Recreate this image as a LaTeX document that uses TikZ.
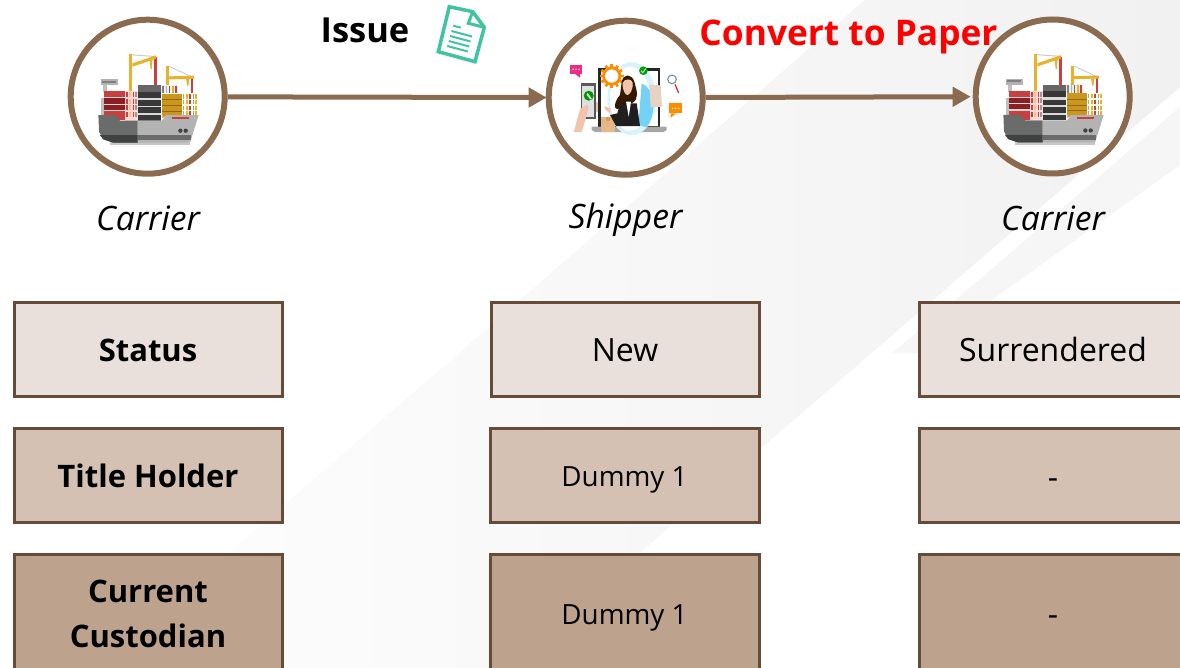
\documentclass[tikz,border=0pt]{standalone}
\usepackage{fontspec}
\setmainfont{Open Sans}
\usetikzlibrary{arrows.meta}
\definecolor{ringc}{HTML}{8B6B50}
\definecolor{edgec}{HTML}{654B38}
\definecolor{fillA}{HTML}{E9E0DB}
\definecolor{fillB}{HTML}{D4C1B3}
\definecolor{fillC}{HTML}{BDA38D}
\definecolor{teal}{HTML}{3FC3A0}
\definecolor{skin}{HTML}{F2C4AC}
\definecolor{cyel}{HTML}{E9B22C}
\definecolor{cred}{HTML}{C8403F}
\definecolor{dred}{HTML}{8B1F23}
\definecolor{ogold}{HTML}{CB961C}
\definecolor{hulld}{HTML}{6A6B6B}
\definecolor{hullx}{HTML}{404242}
\definecolor{hulll}{HTML}{B3B3B3}
\tikzset{
  ring/.style={circle,draw=ringc,fill=white,line width=6pt,minimum size=154pt,inner sep=0pt},
  flow/.style={draw=ringc,line width=5pt,-{Triangle[length=18pt,width=19pt,fill=ringc]}},
  rowbox/.style={rectangle,draw=edgec,line width=3pt,minimum width=268pt,minimum height=94pt,inner sep=0pt,align=center,text=black},
  rowA/.style={rowbox,fill=fillA},
  rowB/.style={rowbox,fill=fillB},
  rowC/.style={rowbox,fill=fillC,minimum height=120pt},
  head/.style={font=\fontsize{31}{45}\selectfont\bfseries},
  plain/.style={font=\fontsize{32}{45}\selectfont,text height=25.4pt,text depth=0pt},
  small/.style={font=\fontsize{27.8}{36}\selectfont,text depth=0pt},
  who/.style={font=\fontsize{33.6}{38}\selectfont\itshape,text=black},
  title/.style={font=\fontsize{34.5}{40}\selectfont\bfseries},
}
\newcommand{\shipart}[2]{%
\begin{scope}[shift={(#1,#2)},x=0.3333pt,y=-0.3333pt,shift={(-293,-290)}]
  % cranes
  \fill[black!20] (246,163) -- (316,168) -- (316,171) -- (246,166) -- cycle;
  \fill[black!20] (356,197) -- (428,230) -- (428,233) -- (356,200) -- cycle;
  \fill[cred] (311,170) rectangle (320,258);
  \fill[cred] (422,232) rectangle (430,282);
  \fill[cyel] (238,163) rectangle (247,278);
  \fill[cyel] (247,190) -- (318,166) -- (318,176) -- (247,200) -- cycle;
  \fill[cyel] (298,175) -- (308,175) -- (305,208) -- (302,208) -- cycle;
  \fill[cyel] (348,197) rectangle (357,258);
  \fill[cyel] (357,229) -- (432,227) -- (432,236) -- (357,238) -- cycle;
  \fill[cyel] (408,236) -- (418,236) -- (415,258) -- (412,258) -- cycle;
  % bridge
  \fill[black!30] (152,237) rectangle (203,255);
  \fill[black!50] (156,242) rectangle (199,248);
  \fill[black!25] (160,255) rectangle (172,277);
  \fill[black!25] (152,295) rectangle (162,345);
  % red stack
  \fill[cred] (161,274) rectangle (225,360);
  \fill[black!15] (161,291) rectangle (225,294);
  \fill[dred] (161,294) rectangle (225,311);
  \fill[black!15] (161,311) rectangle (225,314);
  \fill[dred] (161,314) rectangle (225,329);
  \fill[black!15] (161,329) rectangle (225,333);
  % strip
  \fill[white!85!red] (225,274) rectangle (263,362);
  \foreach \xa/\ca in {228/cred,238/orange!50!white,248/cred,256/black!40}
    \foreach \ya in {276,296,316,336}
      \fill[\ca] (\xa,\ya) rectangle ++(5,15);
  % dark stack
  \fill[black!60] (263,255) rectangle (333,362);
  \fill[black!15] (263,293) rectangle (333,300);
  \fill[black!15] (263,317) rectangle (333,322);
  \fill[black!15] (263,340) rectangle (333,345);
  \fill[black!78] (263,275) rectangle (333,293);
  \fill[black!78] (263,300) rectangle (333,317);
  \fill[black!78] (263,322) rectangle (333,340);
  \fill[black!78] (263,345) rectangle (333,361);
  % top small stack
  \fill[white!85!gray] (333,255) rectangle (383,280);
  \foreach \xa/\ca in {337/black!50,347/black!30,356/black!60,366/cyel,376/cred}
    \fill[\ca] (\xa,257) rectangle ++(5,22);
  % right strip
  \fill[white!90!yellow] (395,280) rectangle (440,347);
  \foreach \xa/\ca in {398/black!35,408/cyel,418/cred,428/black!40,435/cyel}
    \foreach \ya in {283,300,318,334}
      \fill[\ca] (\xa,\ya) rectangle ++(5,13);
  % yellow stack
  \fill[ogold] (337,281) rectangle (395,345);
  \fill[ogold!70!black] (337,297) rectangle (395,300);
  \fill[ogold!70!black] (337,316) rectangle (395,319);
  \fill[ogold!70!black] (337,332) rectangle (395,335);
  \fill[ogold] (337,345) -- (350,345) -- (337,355) -- cycle;
  % hull
  \fill[black!22] (180,425) rectangle (420,435);
  \fill[hulll] (263,362) -- (335,362) -- (350,345) -- (446,345) -- (420,428) -- (263,428) -- cycle;
  \fill[hulld] (145,345) -- (195,345) -- (210,362) -- (263,362) -- (263,428) -- (190,428) -- (160,418) -- (147,395) -- cycle;
  \fill[hullx] (149,405) -- (263,405) -- (263,428) -- (190,428) -- (160,418) -- cycle;
  \fill[black!58] (263,405) rectangle (424,420);
  \fill[cred] (365,351) rectangle (418,357);
  \fill[hullx] (391,392) circle (6.5);
  \fill[hullx] (407,392) circle (6.5);
\end{scope}}
\begin{document}
\begin{tikzpicture}[x=1pt,y=-1pt]
\useasboundingbox (0,0) rectangle (1180,668);
% background
\fill[white] (0,0) rectangle (1180,668);
\shade[left color=black!0.5,right color=black!5.5] (865,0) -- (1180,0) -- (1180,87) -- (643,550) -- (530,668) -- (97,668) -- cycle;
\fill[black!3.5] (1180,107) -- (985,275) -- (892,353) -- (918,353) -- (1180,165) -- cycle;

% actors
\node[ring] (c1) at (147.7,96.7) {};
\node[ring] (s) at (625.7,97.7) {};
\node[ring] (c2) at (1052.7,96.5) {};
\draw[flow,shorten >=-1pt] (c1) -- (s);
\draw[flow,shorten >=2pt] (s) -- (c2);
\shipart{147.7}{96.7}
\shipart{1052.7}{96.5}

% shipper illustration
\begin{scope}[shift={(625.7,97.7)},x=0.3333pt,y=-0.3333pt,shift={(-287,-293)}]
  \fill[black!85] (205,204) rectangle (391,382);
  \fill[white] (212,212) rectangle (384,378);
  \fill[black!35] (185,380) -- (410,380) -- (410,390) -- (400,396) -- (195,396) -- (185,390) -- cycle;
  \fill[cyan!15] (305,296) ellipse (73 and 110);
  \fill[white] (300,296) ellipse (60 and 96);
  \fill[cyan!55] (335,250) .. controls (370,262) and (385,330) .. (350,382) -- (325,375) -- cycle;
  % gear
  \foreach \a in {0,30,...,330}
    \fill[orange!90!yellow,rotate around={\a:(245,228)}] (241,192) rectangle (249,210);
  \fill[orange!90!yellow] (245,228) circle (29);
  \fill[white] (245,228) circle (20);
  % check
  \fill[green!65!black] (340,212) circle (13);
  \draw[white,line width=.7pt] (333,212) -- (338,218) -- (347,206);
  % pink bubble
  \fill[magenta!70!red!85!white] (120,195) rectangle (157,222);
  \fill[magenta!70!red!85!white] (135,222) -- (150,222) -- (150,233) -- cycle;
  \foreach \xa in {129,138,147} \fill[white] (\xa,208) circle (2.5);
  % phone
  \fill[black!65] (152,249) rectangle (198,356);
  \fill[cyan!12!black!15] (157,257) rectangle (193,350);
  \fill[green!60!black] (176,287) circle (15);
  \fill[white] (172,279) -- (177,285) -- (185,296) -- (181,298) -- (170,284) -- cycle;
  % hand
  \fill[skin] (131,396) -- (150,327) -- (172,314) -- (176,322) -- (170,345) -- (155,396) -- cycle;
  \fill[skin] (197,305) rectangle (205,335);
  % document
  \fill[orange!15!white!90!black] (358,254) -- (392,256) -- (396,320) -- (362,322) -- cycle;
  % box
  \fill[orange!40!white!90!black] (214,350) rectangle (256,396);
  \fill[orange!60!white!85!black] (228,350) rectangle (240,362);
  % woman
  \fill[black!80!orange] (275,245) .. controls (280,220) and (305,220) .. (313,245) .. controls (320,275) and (330,295) .. (305,310) -- (270,325) .. controls (245,335) and (255,300) .. (270,285) -- cycle;
  \fill[black!88] (270,310) -- (320,310) -- (330,378) -- (258,378) -- (240,345) -- (262,340) -- cycle;
  \fill[white] (288,305) -- (303,305) -- (296,350) -- cycle;
  \fill[skin] (278,248) .. controls (283,235) and (305,235) .. (308,248) .. controls (310,270) and (298,285) .. (292,285) .. controls (286,285) and (276,270) .. (278,248) -- cycle;
  \fill[skin] (224,318) -- (242,325) -- (240,340) -- (226,330) -- cycle;
  % magnifier
  \draw[black!30!cyan!40!gray,line width=1.1pt] (426,238) circle (13);
  \draw[red!70!gray,line width=1.2pt] (435,253) -- (446,279);
  % orange bubble
  \fill[orange!90!yellow] (418,310) rectangle (457,340);
  \fill[orange!90!yellow] (422,340) -- (438,340) -- (422,353) -- cycle;
  \foreach \xa in {428,437,446} \fill[white] (\xa,325) circle (2.5);
\end{scope}

% document icon
\begin{scope}[line join=miter]
  \draw[teal,line width=3.5pt] (449.3,6.7) -- (472.7,11.7) -- (484.3,27.3) -- (475,61.7) -- (438.3,51.7) -- cycle;
  \draw[teal,line width=3pt] (472.7,11.7) -- (468.3,23.3) -- (484.3,27.3);
  \draw[teal,line width=2pt] (453.3,25.7) -- (460.7,27.7);
  \draw[teal,line width=2pt] (451.5,31) -- (472,36.5);
  \draw[teal,line width=2pt] (450,36) -- (470.5,41.5);
  \draw[teal,line width=2pt] (448.7,41) -- (469.2,46.5);
  \draw[teal,line width=2pt] (447.3,46) -- (467.8,51.5);
\end{scope}

% titles
\node[title,text=black] (issue) at (365,30) {Issue};
\node[title,text=red,font=\fontsize{35.3}{40}\selectfont\bfseries] (conv) at (848.5,37) {Convert to Paper};
\node[who] (l1) at (148,218) {Carrier};
\node[who] (l2) at (625.5,219.5) {Shipper};
\node[who] (l3) at (1053,218) {Carrier};

% table
\node[rowA,head,text height=25.4pt,text depth=0pt] (a1) at (148,349) {Status};
\node[rowA,plain] (a2) at (625,349) {New};
\node[rowA,plain] (a3) at (1053,349) {Surrendered};
\node[rowB,head,text height=25.4pt,text depth=0pt] (b1) at (148,475) {Title Holder};
\node[rowB,small,minimum width=269pt,text height=23pt] (b2) at (624.5,475) {Dummy 1};
\node[rowB,plain,text height=27pt] (b3) at (1053,475) {-};
\node[rowC,head] (d1) at (148,614) {Current\\Custodian};
\node[rowC,small,minimum width=269pt,text height=20.6pt] (d2) at (624.5,614) {Dummy 1};
\node[rowC,plain,text height=22.6pt] (d3) at (1053,614) {-};
\end{tikzpicture}
\end{document}
